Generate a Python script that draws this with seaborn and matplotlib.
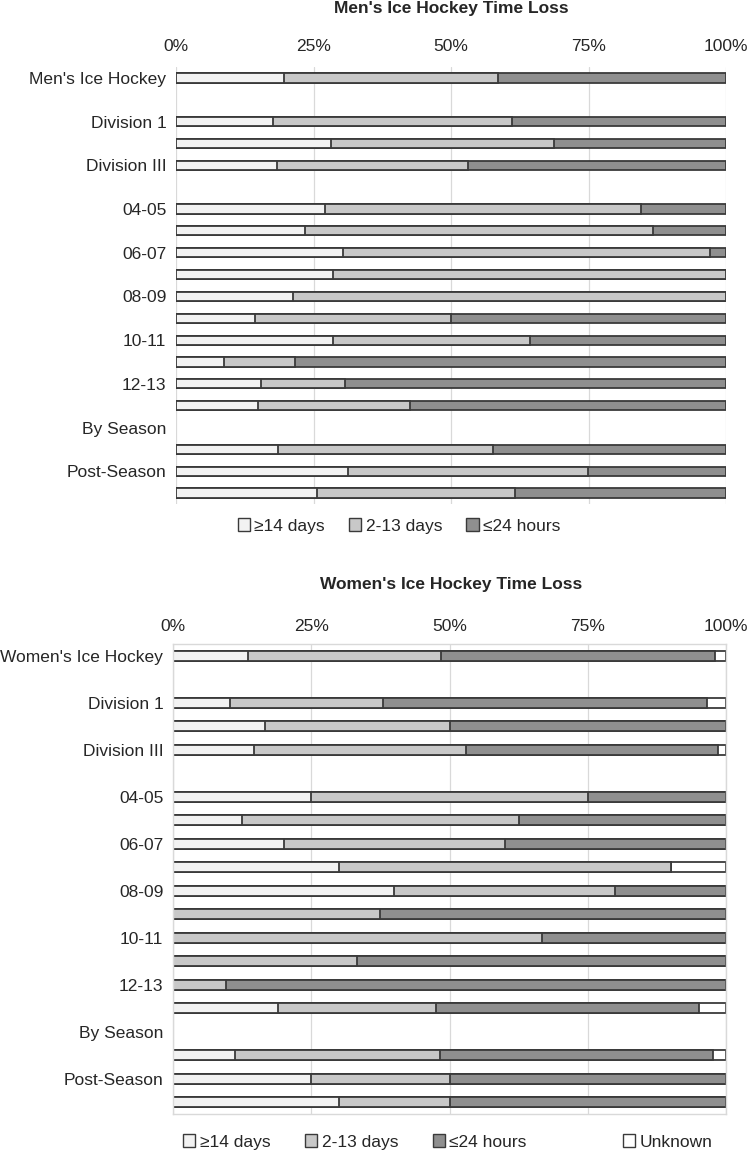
import matplotlib
matplotlib.use("Agg")
import numpy as np
import pandas as pd
import matplotlib.pyplot as plt
import seaborn as sns
from matplotlib.patches import Patch

sns.set_theme(style="white")
plt.rcParams["font.family"] = ["Liberation Sans", "DejaVu Sans"]

# %%
# Data (percent of time-loss injuries); None = blank row in the chart
men_categories = ["Men's Ice Hockey", "blank_1", "Division 1", "Division II", "Division III",
                  "blank_2", "04-05", "05-06", "06-07", "07-08", "08-09", "09-10", "10-11",
                  "11-12", "12-13", "13-14", "By Season", "Regular Season", "Post-Season",
                  "Pre-Season"]
men_ge14 = [19.6, None, 17.6, 28.1, 18.4, None, 27.0, 23.4, 30.3, 28.6, 21.2, 14.3, 28.6,
            8.7, 15.4, 14.9, None, 18.5, 31.2, 25.7]
men_2_13 = [38.9, None, 43.4, 40.7, 34.6, None, 57.6, 63.3, 66.7, 71.4, 78.8, 35.7, 35.7,
            13.0, 15.4, 27.6, None, 39.1, 43.7, 35.9]
men_le24 = [41.5, None, 39.0, 31.2, 47.0, None, 15.4, 13.3, 3.0, 0.0, 0.0, 50.0, 35.7,
            78.3, 69.2, 57.5, None, 42.4, 25.1, 38.4]

women_categories = ["Women's Ice Hockey", "blank_1", "Division 1", "Division II", "Division III",
                    "blank_2", "04-05", "05-06", "06-07", "07-08", "08-09", "09-10", "10-11",
                    "11-12", "12-13", "13-14", "By Season", "Regular Season", "Post-Season",
                    "Pre-Season"]
women_ge14 = [13.6, None, 10.3, 16.7, 14.7, None, 25.0, 12.5, 20.0, 30.0, 40.0, 0.0, 0.0,
              0.0, 0.0, 19.0, None, 11.2, 25.0, 30.0]
women_2_13 = [34.9, None, 27.6, 33.3, 38.3, None, 50.0, 50.0, 40.0, 60.0, 40.0, 37.5, 66.7,
              33.3, 9.5, 28.5, None, 37.0, 25.0, 20.0]
women_le24 = [49.5, None, 58.6, 50.0, 45.5, None, 25.0, 37.5, 40.0, 0.0, 20.0, 62.5, 33.3,
              66.7, 90.5, 47.7, None, 49.5, 50.0, 50.0]
women_unknown = [2.0, None, 3.5, 0.0, 1.5, None, 0.0, 0.0, 0.0, 10.0, 0.0, 0.0, 0.0,
                 0.0, 0.0, 4.8, None, 2.3, 0.0, 0.0]

series_names = ["\u226514 days", "2-13 days", "\u226424 hours", "Unknown"]
series_colors = ["#f2f2f2", "#c8c8c8", "#8f8f8f", "#ffffff"]
edge_color = "#3a3a3a"
grid_color = "#d9d9d9"
text_color = "#262626"
fs = 12.5


# %%
def draw_panel(ax, categories, layers, xpad):
    df = pd.DataFrame({"category": categories})
    for i, vals in enumerate(layers):
        df[f"s{i}"] = vals
    df = df.dropna().reset_index(drop=True)
    cols = [f"s{i}" for i in range(len(layers))]
    cum = df[cols].cumsum(axis=1)
    # draw cumulative bars from the outermost segment inwards
    for i in reversed(range(len(layers))):
        sns.barplot(data=df.assign(value=cum[cols[i]]), x="value", y="category",
                    order=categories, orient="h", color=series_colors[i],
                    saturation=1, edgecolor=edge_color, linewidth=1.3,
                    width=0.42, errorbar=None, ax=ax)
    ax.set_xlim(0, 100)
    ax.xaxis.tick_top()
    ax.set_xticks([0, 25, 50, 75, 100])
    ax.set_xticklabels([f"{t}%" for t in [0, 25, 50, 75, 100]])
    ax.set_yticks(range(0, len(categories), 2))
    ax.set_yticklabels(categories[::2])
    ax.tick_params(axis="x", length=0, pad=xpad, labelsize=fs, colors=text_color)
    ax.tick_params(axis="y", length=0, pad=7, labelsize=fs, colors=text_color)
    ax.grid(axis="x", color=grid_color, linewidth=0.9)
    ax.grid(axis="y", visible=False)
    ax.set_axisbelow(True)
    ax.set_xlabel("")
    ax.set_ylabel("")


def legend_handles(idx):
    return [Patch(facecolor=series_colors[i], edgecolor=edge_color, linewidth=1.0,
                  label=series_names[i]) for i in idx]


W, H = 749, 1151
fig = plt.figure(figsize=(W / 100, H / 100), dpi=100)

# Men's panel
ax1 = fig.add_axes([176 / W, 1 - 504 / H, 550 / W, 437 / H])
draw_panel(ax1, men_categories, [men_ge14, men_2_13, men_le24], xpad=9)
for s in ax1.spines.values():
    s.set_visible(False)
fig.text(451 / W, 1 - 9 / H, "Men's Ice Hockey Time Loss", ha="center", va="center",
         fontsize=12.5, fontweight="bold", color=text_color)
fig.legend(handles=legend_handles([0, 1, 2]), loc="center",
           bbox_to_anchor=(399 / W, 1 - 526 / H), ncol=3, frameon=False, fontsize=fs,
           handlelength=0.7, handleheight=0.7, handletextpad=0.25, columnspacing=1.4,
           labelcolor=text_color)

# Women's panel
ax2 = fig.add_axes([173 / W, 1 - 1114 / H, 553 / W, 470 / H])
draw_panel(ax2, women_categories, [women_ge14, women_2_13, women_le24, women_unknown], xpad=7)
for s in ax2.spines.values():
    s.set_visible(True)
    s.set_color(grid_color)
    s.set_linewidth(1.0)
fig.text(451 / W, 1 - 585 / H, "Women's Ice Hockey Time Loss", ha="center", va="center",
         fontsize=12.5, fontweight="bold", color=text_color)
fig.legend(handles=legend_handles([0, 1, 2]), loc="center",
           bbox_to_anchor=(355 / W, 1 - 1142 / H), ncol=3, frameon=False, fontsize=fs,
           handlelength=0.7, handleheight=0.7, handletextpad=0.25, columnspacing=2.0,
           labelcolor=text_color)
fig.legend(handles=legend_handles([3]), loc="center",
           bbox_to_anchor=(668 / W, 1 - 1142 / H), frameon=False, fontsize=fs,
           handlelength=0.7, handleheight=0.7, handletextpad=0.25, labelcolor=text_color)

fig.savefig("out.png", dpi=100)
